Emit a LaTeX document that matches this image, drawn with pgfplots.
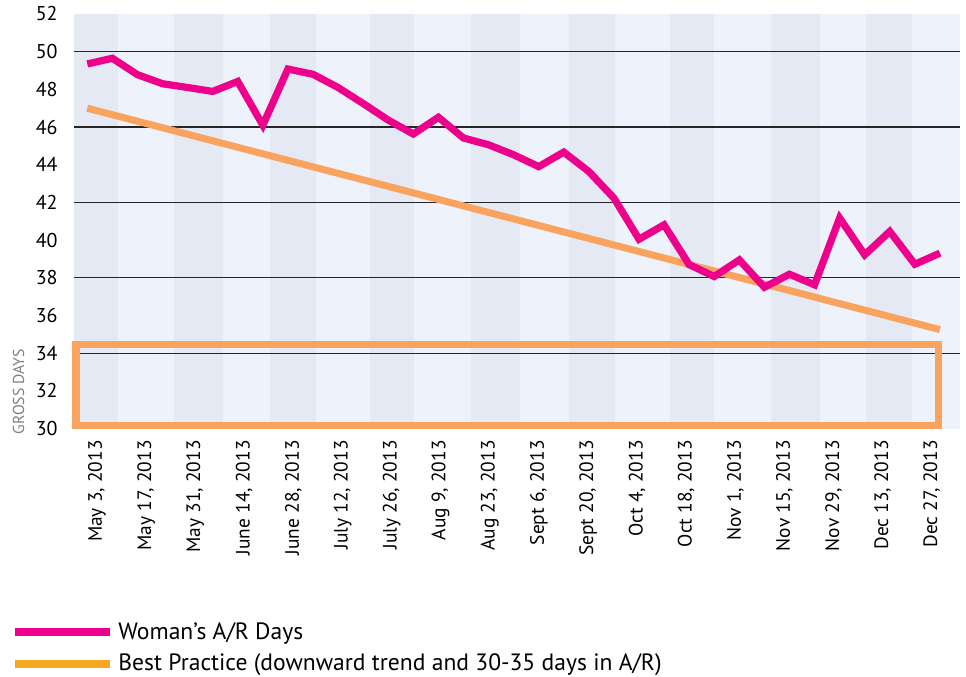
\documentclass[border=0pt]{standalone}
\usepackage{fontspec}
\setmainfont{PT Sans}
\usepackage{pgfplots}
\pgfplotsset{compat=1.18}
\definecolor{pinkline}{HTML}{EC008C}
\definecolor{orangeline}{HTML}{F9A35F}
\definecolor{legendorange}{HTML}{F5A623}
\definecolor{stripelight}{RGB}{238,242,250}
\definecolor{stripedark}{RGB}{228,233,244}
\newcommand{\stripe}[3]{\addplot[on layer=axis background, draw=none, fill=#3, forget plot] coordinates {(#1,30) (#2,30) (#2,52) (#1,52)} -- cycle;}
\begin{document}
\begin{tikzpicture}
\begin{axis}[
  set layers,
  scale only axis, width=443pt, height=207.3pt,
  xmin=-0.53, xmax=34.8, ymin=30, ymax=52,
  clip=false,
  axis line style={draw=none},
  major tick length=0pt,
  ytick={34,38,42,46,50},
  extra y ticks={30,32,36,40,44,48,52},
  extra y tick style={grid=none},
  ymajorgrids,
  grid style={black!85, line width=0.6pt},
  xtick={0.39,2.35,4.30,6.26,8.22,10.18,12.14,14.09,16.05,18.01,19.97,21.93,23.88,25.84,27.80,29.76,31.72,33.67},
  xticklabels={{May 3, 2013},{May 17, 2013},{May 31, 2013},{June 14, 2013},{June 28, 2013},{July 12, 2013},{July 26, 2013},{Aug 9, 2013},{Aug 23, 2013},{Sept 6, 2013},{Sept 20, 2013},{Oct 4, 2013},{Oct 18, 2013},{Nov 1, 2013},{Nov 15, 2013},{Nov 29, 2013},{Dec 13, 2013},{Dec 27, 2013}},
  xticklabel style={rotate=90, anchor=east, inner sep=0pt, font=\fontsize{9.7}{10}\selectfont},
  xticklabel shift=5.7pt,
  yticklabel style={anchor=east, inner sep=0pt, font=\fontsize{10}{11}\selectfont},
  yticklabel shift=8pt,
  /pgf/number format/assume math mode=true,
  ylabel={GROSS DAYS},
  ylabel style={at={(axis description cs:-0.0626,0.0893)}, anchor=center, rotate=0, text=black!50, font=\fontsize{7.9}{9}\selectfont, inner sep=0pt},
  legend style={draw=none, fill=none, at={(axis description cs:-0.0711,-0.457)}, anchor=north west, inner sep=0pt, font=\fontsize{11.8}{13}\selectfont, row sep=1.8pt, cells={anchor=west}},
  legend image code/.code={\draw[#1, line width=4pt] (0pt,0pt) -- (47.5pt,0pt);},
]
\stripe{-0.53}{1.22}{stripedark}
\stripe{1.22}{3.46}{stripelight}
\stripe{3.46}{5.41}{stripedark}
\stripe{5.41}{7.29}{stripelight}
\stripe{7.29}{9.12}{stripedark}
\stripe{9.12}{11.27}{stripelight}
\stripe{11.27}{13.03}{stripedark}
\stripe{13.03}{15.30}{stripelight}
\stripe{15.30}{17.25}{stripedark}
\stripe{17.25}{19.21}{stripelight}
\stripe{19.21}{21.04}{stripedark}
\stripe{21.04}{23.23}{stripelight}
\stripe{23.23}{24.99}{stripedark}
\stripe{24.99}{27.26}{stripelight}
\stripe{27.26}{29.21}{stripedark}
\stripe{29.21}{31.05}{stripelight}
\stripe{31.05}{32.88}{stripedark}
\stripe{32.88}{34.8}{stripelight}
\addplot[orangeline, line width=3.8pt, line join=miter, forget plot] coordinates {(-0.45,30.16) (33.95,30.16) (33.95,34.47) (-0.45,34.47)} -- cycle;
\addplot[orangeline, line width=3.5pt, forget plot] coordinates {(0,47.0) (34,35.25)};
\addplot[pinkline, line width=3.6pt, line join=miter] coordinates {
(0,49.35) (1,49.65) (2,48.78) (3,48.30) (4,48.10) (5,47.89) (6,48.42) (7,46.10) (8,49.08) (9,48.80)
(10,48.10) (11,47.25) (12,46.37) (13,45.63) (14,46.52) (15,45.42) (16,45.06) (17,44.53) (18,43.90) (19,44.67)
(20,43.64) (21,42.23) (22,40.05) (23,40.81) (24,38.70) (25,38.07) (26,38.95) (27,37.50) (28,38.19) (29,37.63)
(30,41.17) (31,39.22) (32,40.46) (33,38.72) (34,39.31)};
\addlegendentry{Woman’s A/R Days}
\addlegendimage{legendorange}
\addlegendentry{Best Practice (downward trend and 30-35 days in A/R)}
\end{axis}
\pgfresetboundingbox
\path[use as bounding box] ([xshift=-37pt,yshift=-124.2pt]current axis.south west) rectangle ([xshift=3pt,yshift=7pt]current axis.north east);
\end{tikzpicture}
\end{document}
